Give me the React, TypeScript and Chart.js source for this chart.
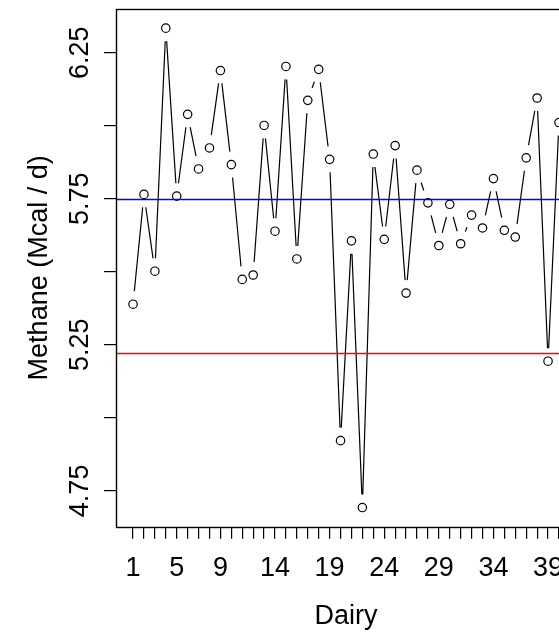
import { useEffect, useRef } from 'react';
import { Chart, registerables } from 'chart.js';

Chart.register(...registerables);

const dairy = [1, 2, 3, 4, 5, 6, 7, 8, 9, 10, 11, 12, 13, 14, 15, 16, 17, 18, 19, 20,
  21, 22, 23, 24, 25, 26, 27, 28, 29, 30, 31, 32, 33, 34, 35, 36, 37, 38, 39, 40];
const methane = [5.389, 5.765, 5.502, 6.334, 5.759, 6.039, 5.852, 5.924, 6.189, 5.867,
  5.474, 5.489, 6.001, 5.639, 6.203, 5.544, 6.087, 6.193, 5.885, 4.922,
  5.606, 4.693, 5.903, 5.611, 5.932, 5.427, 5.848, 5.736, 5.590, 5.731,
  5.596, 5.694, 5.650, 5.819, 5.642, 5.619, 5.890, 6.095, 5.194, 6.011];
const xTickLabels = [1, 5, 9, 14, 19, 24, 29, 34, 39];
const yTickValues = [4.75, 5.0, 5.25, 5.5, 5.75, 6.0, 6.25];
const yTickLabels = ['4.75', '5.25', '5.75', '6.25'];
const refValues = [5.75, 5.222];

const xTitle = 'Dairy';
const yTitle = 'Methane (Mcal / d)';

const FONT = '27px "Liberation Sans", Arial, sans-serif';

export default function App() {
  const ref = useRef<HTMLCanvasElement | null>(null);

  useEffect(() => {
    if (!ref.current) return;
    const n = dairy.length;
    const xPad = 0.04 * (dairy[n - 1] - dairy[0]);
    const ymin = Math.min(...methane);
    const ymax = Math.max(...methane);
    const yPad = 0.04 * (ymax - ymin);
    const refColors = ['#0000ff', '#ff0000'];
    const GAP = 13;
    const LW = 1.2;

    const rPlot = {
      id: 'rplot',
      beforeDatasetsDraw(chart: any) {
        const meta = chart.getDatasetMeta(0);
        const ctx = chart.ctx;
        ctx.save();
        ctx.strokeStyle = '#000';
        ctx.lineWidth = LW;
        ctx.beginPath();
        for (let i = 0; i < meta.data.length - 1; i++) {
          const a = meta.data[i];
          const b = meta.data[i + 1];
          const dx = b.x - a.x;
          const dy = b.y - a.y;
          const d = Math.hypot(dx, dy);
          if (d > 2 * GAP) {
            const ux = dx / d;
            const uy = dy / d;
            ctx.moveTo(a.x + ux * GAP, a.y + uy * GAP);
            ctx.lineTo(b.x - ux * GAP, b.y - uy * GAP);
          }
        }
        ctx.stroke();
        ctx.restore();
      },
      afterDatasetsDraw(chart: any) {
        const { ctx, chartArea, scales } = chart;
        ctx.save();
        ctx.lineWidth = 1.3;
        refValues.forEach((v, i) => {
          const py = Math.round(scales.y.getPixelForValue(v)) + 0.5;
          ctx.strokeStyle = refColors[i];
          ctx.beginPath();
          ctx.moveTo(chartArea.left, py);
          ctx.lineTo(chartArea.right, py);
          ctx.stroke();
        });
        ctx.restore();
      },
      afterDraw(chart: any) {
        const { ctx, chartArea, scales } = chart;
        const { left, right, top, bottom } = chartArea;
        ctx.save();
        ctx.strokeStyle = '#000';
        ctx.lineWidth = 1.4;
        ctx.strokeRect(Math.round(left) + 0.5, Math.round(top) + 0.5, right - left, Math.round(bottom - top));
        ctx.fillStyle = '#000';
        ctx.font = FONT;
        // x tick labels
        ctx.textAlign = 'center';
        ctx.textBaseline = 'alphabetic';
        xTickLabels.forEach((v) => {
          ctx.fillText(String(v), scales.x.getPixelForValue(v), bottom + 48.8);
        });
        // x title
        ctx.fillText(xTitle, (left + right) / 2, bottom + 96.8);
        // y tick labels (rotated)
        yTickLabels.forEach((s) => {
          const py = scales.y.getPixelForValue(parseFloat(s));
          ctx.save();
          ctx.translate(left - 28.4, py);
          ctx.rotate(-Math.PI / 2);
          ctx.fillText(s, 0, 0);
          ctx.restore();
        });
        // y title
        ctx.save();
        ctx.translate(left - 69.3, (top + bottom) / 2);
        ctx.rotate(-Math.PI / 2);
        ctx.fillText(yTitle, 0, 0);
        ctx.restore();
        ctx.restore();
      },
    };

    const chart = new Chart(ref.current, {
      type: 'scatter',
      data: {
        datasets: [
          {
            data: dairy.map((d, i) => ({ x: d, y: methane[i] })),
            showLine: false,
            pointRadius: 4.2,
            pointHoverRadius: 4.2,
            pointBorderWidth: LW,
            pointBorderColor: '#000',
            pointBackgroundColor: 'rgba(0,0,0,0)',
          },
        ],
      },
      options: {
        responsive: false,
        animation: false,
        events: [],
        layout: { padding: { top: 9, right: 24, left: 0, bottom: 0 } },
        plugins: { legend: { display: false }, tooltip: { enabled: false } },
        scales: {
          x: {
            type: 'linear',
            min: dairy[0] - xPad,
            max: dairy[n - 1] + xPad,
            afterBuildTicks: (s: any) => {
              s.ticks = dairy.map((v) => ({ value: v }));
            },
            afterFit: (s: any) => {
              s.height = 107.3;
            },
            ticks: { display: false },
            border: { display: false },
            grid: {
              drawOnChartArea: false,
              drawTicks: true,
              tickLength: 12,
              color: '#000',
              lineWidth: LW,
            },
          },
          y: {
            type: 'linear',
            min: ymin - yPad,
            max: ymax + yPad,
            afterBuildTicks: (s: any) => {
              s.ticks = yTickValues.map((v) => ({ value: v }));
            },
            afterFit: (s: any) => {
              s.width = 116;
            },
            ticks: { display: false },
            border: { display: false },
            grid: {
              drawOnChartArea: false,
              drawTicks: true,
              tickLength: 12,
              color: '#000',
              lineWidth: LW,
            },
          },
        },
      },
      plugins: [rPlot],
    });
    return () => chart.destroy();
  }, []);

  return (
    <div
      style={{
        position: 'fixed',
        left: 0,
        top: 0,
        width: 559,
        height: 634,
        overflow: 'hidden',
        background: '#fff',
      }}
    >
      <canvas ref={ref} width={600} height={634} style={{ display: 'block' }} />
    </div>
  );
}
